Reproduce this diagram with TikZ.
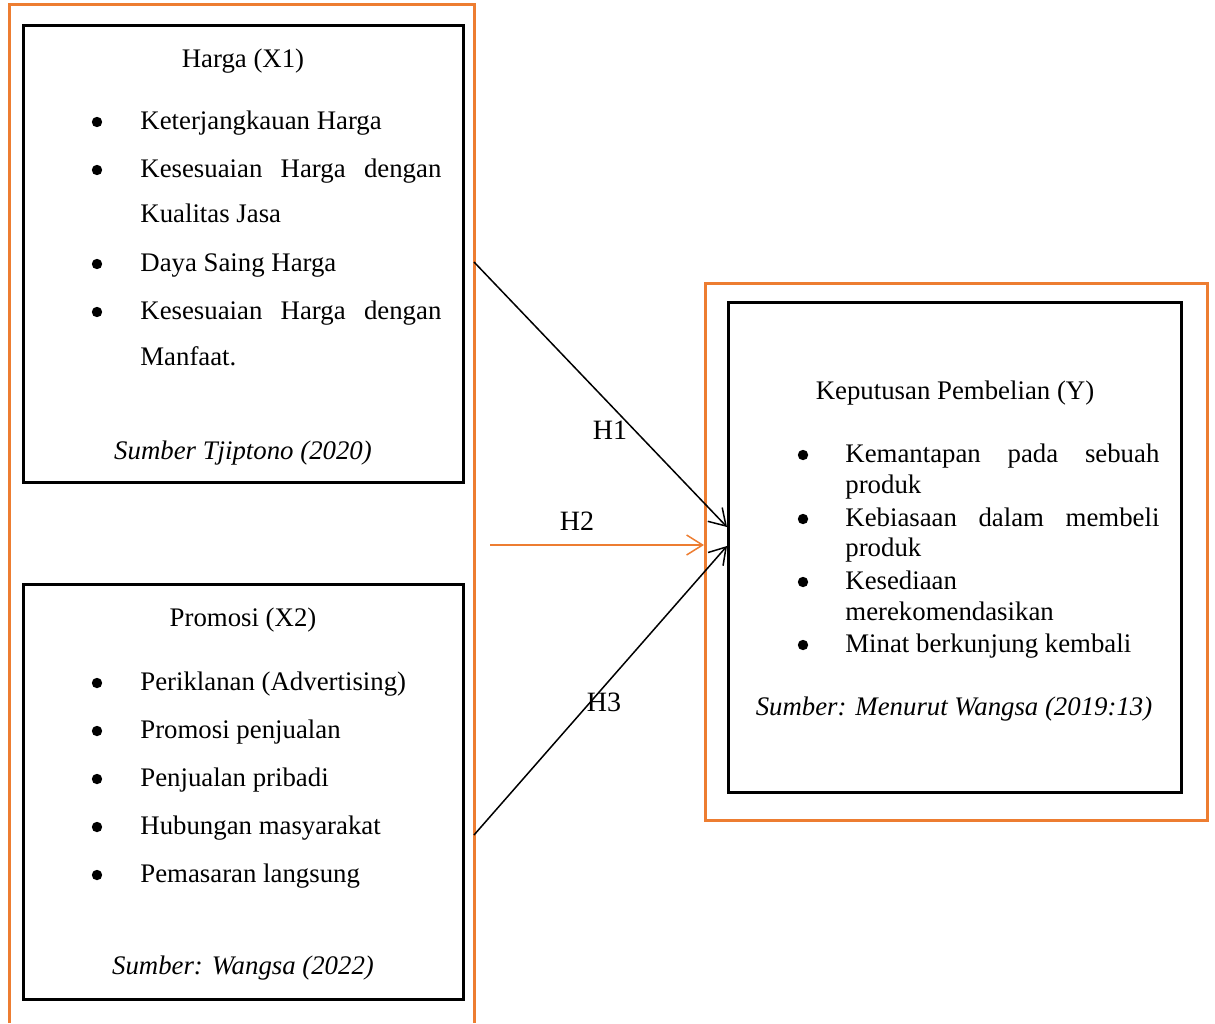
\documentclass[tikz,border=0pt]{standalone}
\usepackage{fontspec}
\setmainfont{Liberation Serif}
\usetikzlibrary{arrows.meta}
\definecolor{oranye}{HTML}{ED7D31}
\newcommand{\jline}[2]{\makebox[#1][s]{#2}}
\begin{document}
\begin{tikzpicture}[x=0.5pt,y=-0.5pt,
  frame/.style={draw=oranye,line width=1.5pt},
  box/.style={draw=black,line width=1.5pt,inner sep=0pt,anchor=north west},
  txt/.style={anchor=base west,inner sep=0pt,font=\fontsize{13.4}{16}\selectfont},
  ctxt/.style={anchor=base,inner sep=0pt,font=\fontsize{13.4}{16}\selectfont},
  src/.style={ctxt,font=\fontsize{13.4}{16}\selectfont\itshape},
  dot/.style={circle,fill=black,inner sep=0pt,minimum size=5.2pt},
  hyp/.style={draw=black,line width=0.75pt,-{Straight Barb[length=8pt,width=10pt]}}]
\useasboundingbox (0,0) rectangle (1215,1023);
% left frame, open at the bottom
\draw[frame] (9,1023) |- (474,4) -- (474,1023);
\node[frame,inner sep=0pt,anchor=north west,minimum width=251pt,minimum height=268.5pt] (kanan) at (704,282) {};
% boxes
\node[box,minimum width=220pt,minimum height=228.5pt] (harga) at (22,24) {};
\node[box,minimum width=220pt,minimum height=207.5pt] (promosi) at (22,583) {};
\node[box,minimum width=226.5pt,minimum height=245pt] (keputusan) at (727,301) {};
% Harga (X1)
\node[ctxt] (hjudul) at (243,67) {Harga (X1)};
\foreach \y in {129,177,271,319}
  \node[dot] at (97,\y-7) {};
\node[txt] (h1) at (140,129) {Keterjangkauan Harga};
\node[txt] (h2) at (140,177) {\jline{150.5pt}{Kesesuaian Harga dengan}};
\node[txt] (h2b) at (140,222) {Kualitas Jasa};
\node[txt] (h3) at (140,271) {Daya Saing Harga};
\node[txt] (h4) at (140,319) {\jline{150.5pt}{Kesesuaian Harga dengan}};
\node[txt] (h4b) at (140,365) {Manfaat.};
\node[src] (hsumber) at (243,459) {Sumber Tjiptono (2020)};
% Promosi (X2)
\node[ctxt] (pjudul) at (243,626) {Promosi (X2)};
\foreach \y/\t [count=\i] in {690/Periklanan (Advertising),738/Promosi penjualan,786/Penjualan pribadi,834/Hubungan masyarakat,882/Pemasaran langsung}{
  \node[dot] at (97,\y-7) {};
  \node[txt] (p\i) at (140,\y) {\t};
}
\node[src] (psumber) at (243,974) {Sumber: Wangsa (2022)};
% Keputusan Pembelian (Y)
\node[ctxt] (kjudul) at (955,399) {Keputusan Pembelian (Y)};
\foreach \y in {462,526,589,652}
  \node[dot] at (803,\y-7) {};
\node[txt] (k1) at (845,462) {\jline{157pt}{Kemantapan pada sebuah}};
\node[txt] (k1b) at (845,493) {produk};
\node[txt] (k2) at (845,526) {\jline{157pt}{Kebiasaan dalam membeli}};
\node[txt] (k2b) at (845,556) {produk};
\node[txt] (k3) at (845,589) {Kesediaan};
\node[txt] (k3b) at (845,620) {merekomendasikan};
\node[txt] (k4) at (845,652) {Minat berkunjung kembali};
\node[src] (ksumber) at (954,715) {Sumber: Menurut Wangsa (2019:13)};
% hypotheses
\coordinate (h1a) at (474,262);
\coordinate (h1b) at (727,527);
\coordinate (h2a) at (490,545);
\coordinate (h2b) at (704,545);
\coordinate (h3a) at (474,835);
\coordinate (h3b) at (727,546);
\draw[hyp] (h1a) -- (h1b);
\draw[hyp,draw=oranye] (h2a) -- (h2b);
\draw[hyp] (h3a) -- (h3b);
\node[ctxt,font=\fontsize{14}{16}\selectfont] (lh1) at (610,439) {H1};
\node[ctxt,font=\fontsize{14}{16}\selectfont] (lh2) at (577,530) {H2};
\node[ctxt,font=\fontsize{14}{16}\selectfont] (lh3) at (604,711) {H3};
\end{tikzpicture}
\end{document}
